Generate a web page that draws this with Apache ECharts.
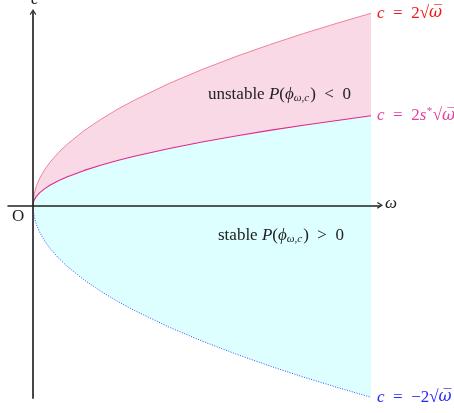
<!DOCTYPE html>
<html>
<head>
<meta charset="utf-8">
<script src="https://cdn.jsdelivr.net/npm/echarts@6/dist/echarts.min.js"></script>
<style>
html,body{margin:0;padding:0;background:#fff;}
#c{width:454px;height:413px;}
</style>
</head>
<body>
<div id="c"></div>
<script>
// omega values (x)
const omega = [0, 0.001, 0.004, 0.01, 0.02, 0.035, 0.05, 0.075, 0.1, 0.15, 0.2, 0.25, 0.3, 0.4, 0.5, 0.6, 0.7, 0.8, 0.9, 1.0];
// upper curve c = 2 sqrt(omega)
const upperC = [0, 0.063, 0.126, 0.2, 0.283, 0.374, 0.447, 0.548, 0.632, 0.775, 0.894, 1.0, 1.095, 1.265, 1.414, 1.549, 1.673, 1.789, 1.897, 2.0];
// middle curve c = 2 s* sqrt(omega)
const middleC = [0, 0.029, 0.059, 0.093, 0.132, 0.174, 0.208, 0.255, 0.295, 0.361, 0.417, 0.466, 0.510, 0.589, 0.659, 0.722, 0.780, 0.834, 0.884, 0.932];
// lower curve c = -2 sqrt(omega)
const lowerC = [0, -0.063, -0.126, -0.2, -0.283, -0.374, -0.447, -0.548, -0.632, -0.775, -0.894, -1.0, -1.095, -1.265, -1.414, -1.549, -1.673, -1.789, -1.897, -2.0];
// axis extents
const xRange = [-0.074, 1.0266];
const yRange = [-2.0073, 2.0135];

const pts = (ys) => omega.map((x, i) => [x, ys[i]]);
const serif = '"Liberation Serif", "DejaVu Serif", serif';
const FS = 17;
const mathRich = (color) => ({
  i: {fontFamily: serif, fontStyle: 'italic', fontSize: FS, color: color},
  r: {fontFamily: serif, fontSize: FS, color: color},
  sup: {fontFamily: serif, fontStyle: 'italic', fontSize: 11, color: color, padding: [0, 1, 9, 0]},
  ov: {fontFamily: '"DejaVu Serif", serif', fontStyle: 'italic', fontSize: FS - 1, color: color}
});

const chart = echarts.init(document.getElementById('c'), null, {renderer: 'canvas'});
const axisCol = '#333';
const chev = 'path://M5,0 L10,8 L8.6,9 L5,3.2 L1.4,9 L0,8 Z';
const regionRich = {
  r: {fontFamily: serif, fontSize: 17, fill: '#222'},
  i: {fontFamily: serif, fontStyle: 'italic', fontSize: 17, fill: '#222'},
  sub: {fontFamily: serif, fontStyle: 'italic', fontSize: 11, fill: '#222', padding: [8, 1, 0, 0]}
};
chart.setOption({
  animation: false,
  grid: {left: 8, right: 74, top: 12, bottom: 15},
  xAxis: {
    type: 'value', min: xRange[0], max: xRange[1], z: 20,
    axisLine: {onZero: true, lineStyle: {color: '#222', width: 1.5}, symbol: ['none', chev], symbolSize: [8, 6]},
    axisTick: {show: false}, axisLabel: {show: false}, splitLine: {show: false}
  },
  yAxis: {
    type: 'value', min: yRange[0], max: yRange[1], z: 20,
    axisLine: {onZero: true, lineStyle: {color: axisCol, width: 1.8}, symbol: ['none', chev], symbolSize: [8, 6]},
    axisTick: {show: false}, axisLabel: {show: false}, splitLine: {show: false}
  },
  series: [
    {
      type: 'line', data: pts(upperC), showSymbol: false, z: 2,
      lineStyle: {color: '#f0809c', width: 1},
      areaStyle: {color: '#f9d9e6', opacity: 1},
      endLabel: {show: true, distance: 6, formatter: '{i|c}{r|  =  2√}{ov|ω\u0305}', rich: mathRich('#f01818')}
    },
    {
      type: 'line', data: pts(middleC), showSymbol: false, z: 4,
      lineStyle: {color: '#e02888', width: 1.1},
      areaStyle: {color: '#ddffff', opacity: 1},
      endLabel: {show: true, distance: 6, formatter: '{i|c}{r|  =  2}{i|s}{sup|*}{r|√}{ov|ω\u0305}', rich: mathRich('#e8409c')}
    },
    {
      type: 'line', data: pts(lowerC), showSymbol: false, z: 3,
      lineStyle: {color: '#3050ff', width: 1, type: [1, 1.5]},
      areaStyle: {color: '#ddffff', opacity: 1},
      endLabel: {show: true, distance: 6, formatter: '{i|c}{r|  =  −2√}{ov|ω\u0305}', rich: mathRich('#2828ff')}
    }
  ],
  graphic: [
    {type: 'text', left: 208, top: 86, z: 10, style: {
      text: '{r|unstable }{i|P}{r|(}{i|ϕ}{sub|ω,c}{r|)  <  0}', rich: regionRich}},
    {type: 'text', left: 218, top: 227, z: 10, style: {
      text: '{r|stable }{i|P}{r|(}{i|ϕ}{sub|ω,c}{r|)  >  0}', rich: regionRich}},
    {type: 'text', left: 385, top: 195, z: 10, style: {text: 'ω', font: 'italic 17px ' + serif, fill: '#222'}},
    {type: 'text', left: 31, top: -9, z: 10, style: {text: 'c', font: 'italic 17px ' + serif, fill: '#222'}},
    {type: 'text', left: 12, top: 208, z: 10, style: {text: 'O', font: '17px ' + serif, fill: '#222'}}
  ]
});
</script>
</body>
</html>
